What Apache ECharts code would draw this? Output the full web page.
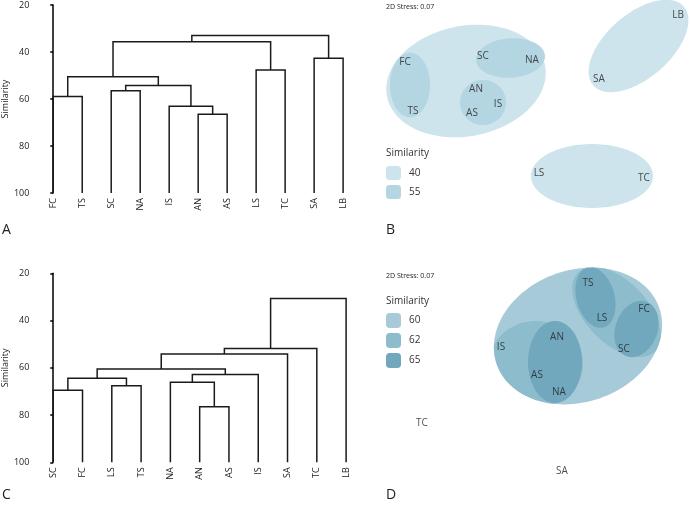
<!DOCTYPE html>
<html><head><meta charset="utf-8">
<script src="https://cdn.jsdelivr.net/npm/echarts@6/dist/echarts.min.js"></script>
<style>html,body{margin:0;padding:0;background:#fff}#c{width:690px;height:508px}</style>
</head><body><div id="c"></div>
<script>
// ---------- Panel A : dendrogram ----------
const leavesA = ['FC','TS','SC','NA','IS','AN','AS','LS','TC','SA','LB'];
const mergeA_left   = ['FC','SC','AN','IS','m1','m0','LS','SA','m5','m8'];
const mergeA_right  = ['TS','NA','AS','m2','m3','m4','TC','LB','m6','m7'];
const mergeA_height = [58.9,56.5,66.5,63.1,54.3,50.5,47.7,42.7,35.6,33.0];

// ---------- Panel C : dendrogram ----------
const leavesC = ['SC','FC','LS','TS','NA','AN','AS','IS','SA','TC','LB'];
const mergeC_left   = ['SC','LS','m0','AN','NA','m4','m2','m6','m7','m8'];
const mergeC_right  = ['FC','TS','m1','AS','m3','IS','m5','SA','TC','LB'];
const mergeC_height = [69.5,67.6,64.4,76.5,66.1,62.8,60.5,54.2,51.8,30.7];

// ---------- Panel B : nMDS ----------
const namesB = ['FC','TS','SC','NA','AN','IS','AS','LB','SA','LS','TC'];
const mdsBx  = [-1.25,-1.17,-0.47,0.02,-0.54,-0.32,-0.58,1.48,0.69,0.09,1.14];
const mdsBy  = [0.58,0.09,0.64,0.60,0.31,0.16,0.07,1.05,0.41,-0.53,-0.58];
// cluster outlines: [cx, cy, rx, ry, angle]
const clustersB40 = [[-0.64,0.39,0.805,0.552,11],[1.085,0.74,0.60,0.32,41],[0.62,-0.56,0.61,0.32,0]];
const clustersB55 = [[-1.20,0.35,0.20,0.323,0],[-0.195,0.62,0.345,0.197,4],[-0.47,0.175,0.23,0.225,0]];
const levelsB = ['40','55'];

// ---------- Panel D : nMDS ----------
const namesD = ['TS','LS','FC','SC','IS','AN','AS','NA','TC','SA'];
const mdsDx  = [0.58,0.72,1.14,0.94,-0.29,0.27,0.07,0.29,-1.08,0.32];
const mdsDy  = [0.97,0.62,0.71,0.31,0.33,0.43,0.05,-0.12,-0.43,-0.91];
const clustersD60 = [[0.48,0.44,0.86,0.66,19]];
const clustersD62 = [[0.06,0.16,0.47,0.43,0],[0.865,0.68,0.55,0.31,-46]];
const clustersD65 = [[0.655,0.825,0.31,0.19,-75],[1.065,0.51,0.29,0.21,70],[0.25,0.18,0.27,0.41,0]];
const levelsD = ['60','62','65'];

const stressText = '2D Stress: 0.07';

function dendroLines(leaves, L, R, H) {
  const pos = {};
  leaves.forEach((n, i) => pos[n] = [i, 100]);
  const out = [];
  for (let k = 0; k < H.length; k++) {
    const a = pos[L[k]], b = pos[R[k]], h = H[k];
    out.push({coords: [[a[0], a[1]], [a[0], h], [b[0], h], [b[0], b[1]]]});
    pos['m' + k] = [(a[0] + b[0]) / 2, h];
  }
  return out;
}

function ellipsePoly(cx, cy, rx, ry, angDeg, n) {
  const ang = angDeg * Math.PI / 180, p = [];
  for (let i = 0; i < n; i++) {
    const t = i / n * 2 * Math.PI;
    const x = rx * Math.cos(t), y = ry * Math.sin(t);
    p.push([cx + x * Math.cos(ang) - y * Math.sin(ang), cy + x * Math.sin(ang) + y * Math.cos(ang)]);
  }
  return p;
}
function clipPoly(subject, clip) {
  let out = subject;
  for (let i = 0; i < clip.length && out.length; i++) {
    const a = clip[i], b = clip[(i + 1) % clip.length];
    const inp = out; out = [];
    const inside = p => (b[0] - a[0]) * (p[1] - a[1]) - (b[1] - a[1]) * (p[0] - a[0]) >= 0;
    const inter = (p, q) => {
      const x1 = p[0], y1 = p[1], x2 = q[0], y2 = q[1], x3 = a[0], y3 = a[1], x4 = b[0], y4 = b[1];
      const d = (x1 - x2) * (y3 - y4) - (y1 - y2) * (x3 - x4);
      const t = ((x1 - x3) * (y3 - y4) - (y1 - y3) * (x3 - x4)) / d;
      return [x1 + t * (x2 - x1), y1 + t * (y2 - y1)];
    };
    for (let j = 0; j < inp.length; j++) {
      const p = inp[j], q = inp[(j + 1) % inp.length];
      const pi = inside(p), qi = inside(q);
      if (pi) { out.push(p); if (!qi) out.push(inter(p, q)); }
      else if (qi) { out.push(inter(p, q)); }
    }
  }
  return out;
}
function makeEllipseRenderer(clipEllipse) {
  const clipP = clipEllipse ? ellipsePoly(...clipEllipse, 160) : null;
  return function (params, api) {
    let p = ellipsePoly(api.value(0), api.value(1), api.value(2), api.value(3), api.value(4), 120);
    if (clipP) p = clipPoly(p, clipP);
    return {type: 'polygon', shape: {points: p.map(q => api.coord(q))}, style: {fill: api.visual('color')}};
  };
}

const FONT = 'Open Sans';
const lineColor = '#1a1a1a';

function simAxis(grid, offset) {
  return {
    type: 'value', gridIndex: grid, inverse: true, min: 20, max: 100, interval: 20,
    position: 'left', offset: offset,
    name: 'Similarity', nameLocation: 'middle', nameGap: 21,
    nameTextStyle: {fontSize: 9, color: '#222', fontFamily: FONT},
    axisLine: {show: true, lineStyle: {color: '#000', width: 1.5}},
    axisTick: {show: true, length: 3, lineStyle: {color: '#000', width: 1.5}},
    axisLabel: {fontSize: 9, color: '#222', margin: 5, fontFamily: FONT},
    splitLine: {show: false}
  };
}
function leafAxis(grid, data) {
  return {
    type: 'category', gridIndex: grid, data: data, position: 'bottom', boundaryGap: true,
    axisLine: {show: false}, axisTick: {show: false},
    axisLabel: {rotate: 90, fontSize: 9, color: '#222', margin: 5, fontFamily: FONT, interval: 0}
  };
}
function hiddenVal(grid, min, max, pos) {
  return {type: 'value', gridIndex: grid, min: min, max: max, show: false, position: pos,
    splitLine: {show: false}};
}
function pts(names, xs, ys) {
  return names.map((n, i) => ({name: n, value: [xs[i], ys[i]]}));
}
function ellSeries(name, data, color, xi, yi, clipEllipse) {
  return {type: 'custom', name: name, xAxisIndex: xi, yAxisIndex: yi, data: data,
    itemStyle: {color: color}, renderItem: makeEllipseRenderer(clipEllipse), silent: true,
    encode: {x: 0, y: 1}, clip: false};
}
function labelSeries(data, xi, yi) {
  return {type: 'scatter', xAxisIndex: xi, yAxisIndex: yi, data: data, symbolSize: 0, z: 10,
    silent: true,
    label: {show: true, position: 'inside', formatter: '{b}', fontSize: 10, color: '#222', fontFamily: FONT}};
}

const colB = {'40': '#cde4ed', '55': '#b4d5e2'};
const colD = {'60': '#a6cad8', '62': '#8dbccd', '65': '#71a8bd'};

const chart = echarts.init(document.getElementById('c'), null, {renderer: 'canvas'});
chart.setOption({
  animation: false,
  backgroundColor: '#fff',
  grid: [
    {left: 36.4, top: 5, width: 321.2, height: 188},
    {left: 36.25, top: 273.3, width: 324.5, height: 189},
    {left: 370, top: 0, width: 320, height: 240},
    {left: 370, top: 260, width: 320, height: 248}
  ],
  xAxis: [
    hiddenVal(0, -0.5, 10.5, 'bottom'),
    leafAxis(0, leavesA),
    hiddenVal(1, -0.5, 10.5, 'bottom'),
    leafAxis(1, leavesC),
    hiddenVal(2, -1.6, 1.6, 'bottom'),
    hiddenVal(3, -1.6, 1.6, 'bottom')
  ],
  yAxis: [
    simAxis(0, 4.4),
    simAxis(1, 4.25),
    hiddenVal(2, -1.2, 1.2, 'left'),
    hiddenVal(3, -1.28, 1.2, 'left')
  ],
  legend: [
    {data: levelsB, orient: 'vertical', left: 386, top: 166, padding: 0, itemWidth: 15, itemHeight: 14,
      itemGap: 5, icon: 'roundRect', selectedMode: false,
      textStyle: {fontSize: 10, color: '#333', fontFamily: FONT, padding: [0, 0, 0, 3]}},
    {data: levelsD, orient: 'vertical', left: 386, top: 313, padding: 0, itemWidth: 15, itemHeight: 15,
      itemGap: 5, icon: 'roundRect', selectedMode: false,
      textStyle: {fontSize: 10, color: '#333', fontFamily: FONT, padding: [0, 0, 0, 3]}}
  ],
  graphic: [
    {type: 'text', left: 2, top: 223, style: {text: 'A', fontSize: 14, fill: '#222', fontFamily: FONT}},
    {type: 'text', left: 386, top: 223, style: {text: 'B', fontSize: 14, fill: '#222', fontFamily: FONT}},
    {type: 'text', left: 2, top: 488, style: {text: 'C', fontSize: 14, fill: '#222', fontFamily: FONT}},
    {type: 'text', left: 386, top: 488, style: {text: 'D', fontSize: 14, fill: '#222', fontFamily: FONT}},
    {type: 'text', left: 386, top: 3, style: {text: stressText, fontSize: 7, fill: '#222', fontFamily: FONT}},
    {type: 'text', left: 386, top: 272, style: {text: stressText, fontSize: 7, fill: '#222', fontFamily: FONT}},
    {type: 'text', left: 386, top: 148, style: {text: 'Similarity', fontSize: 10, fill: '#333', fontFamily: FONT}},
    {type: 'text', left: 386, top: 296, style: {text: 'Similarity', fontSize: 10, fill: '#333', fontFamily: FONT}}
  ],
  series: [
    {type: 'lines', coordinateSystem: 'cartesian2d', xAxisIndex: 0, yAxisIndex: 0, polyline: true,
      silent: true, data: dendroLines(leavesA, mergeA_left, mergeA_right, mergeA_height),
      lineStyle: {color: lineColor, width: 1.5, opacity: 1}},
    {type: 'lines', coordinateSystem: 'cartesian2d', xAxisIndex: 2, yAxisIndex: 1, polyline: true,
      silent: true, data: dendroLines(leavesC, mergeC_left, mergeC_right, mergeC_height),
      lineStyle: {color: lineColor, width: 1.5, opacity: 1}},
    ellSeries('40', clustersB40, colB['40'], 4, 2, null),
    ellSeries('55', clustersB55, colB['55'], 4, 2, null),
    labelSeries(pts(namesB, mdsBx, mdsBy), 4, 2),
    ellSeries('60', clustersD60, colD['60'], 5, 3, null),
    ellSeries('62', clustersD62, colD['62'], 5, 3, clustersD60[0]),
    ellSeries('65', clustersD65, colD['65'], 5, 3, clustersD60[0]),
    labelSeries(pts(namesD, mdsDx, mdsDy), 5, 3)
  ]
});
</script></body></html>
